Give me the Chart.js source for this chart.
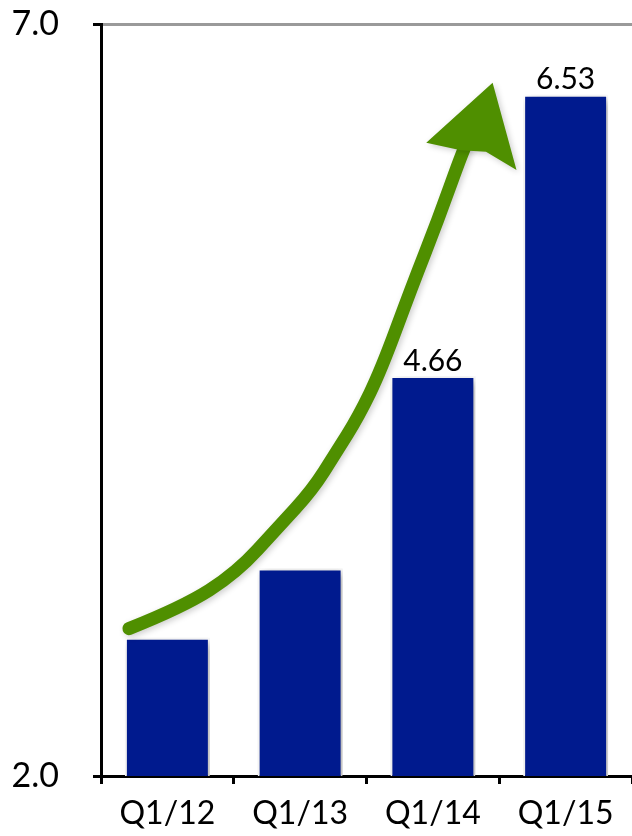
<!DOCTYPE html>
<html>
<head>
<meta charset="utf-8">
<script src="https://cdn.jsdelivr.net/npm/chart.js@4/dist/chart.umd.min.js"></script>
<style>
  body { margin: 0; background: #fff; }
  #wrap { width: 632px; height: 836px; }
</style>
</head>
<body>
<div id="wrap"><canvas id="myChart" width="632" height="836"></canvas></div>
<script>
// chart values
const quarters = ['Q1/12', 'Q1/13', 'Q1/14', 'Q1/15'];
const values = [2.92, 3.38, 4.66, 6.53];
const valueLabels = ['', '', '4.66', '6.53'];
const yTicks = [2.0, 7.0];

// green "growth" arrow, in (category index, value) space
const arrowIdx = [-0.29, 0.11, 0.52, 0.84, 1.09, 1.27, 1.44, 1.61, 1.84, 2.04, 2.21, 2.28];
const arrowVal = [2.98, 3.12, 3.35, 3.66, 3.90, 4.15, 4.39, 4.70, 5.25, 5.70, 6.12, 6.26];
const headIdx = [1.95, 2.45, 2.63, 2.40, 2.21];
const headVal = [6.21, 6.61, 6.03, 6.15, 6.16];

const FONT = 'Lato, "Open Sans", sans-serif';

const barShadow = {
    id: 'barShadow',
    beforeDatasetDraw(chart) {
        const c = chart.ctx;
        c.save();
        c.shadowColor = 'rgba(0, 0, 0, 0.35)';
        c.shadowBlur = 9;
        c.shadowOffsetX = 3;
        c.shadowOffsetY = 3;
    },
    afterDatasetDraw(chart) {
        chart.ctx.restore();
    }
};

const arrowPlugin = {
    id: 'arrowPlugin',
    afterDatasetsDraw(chart) {
        const c = chart.ctx;
        const xs = chart.scales.x, ys = chart.scales.y;
        const px = arrowIdx.map(v => xs.getPixelForValue(v));
        const py = arrowVal.map(v => ys.getPixelForValue(v));
        c.save();
        c.shadowColor = 'rgba(0, 0, 0, 0.2)';
        c.shadowBlur = 6;
        c.shadowOffsetX = 2;
        c.shadowOffsetY = 2;
        c.strokeStyle = '#4f8f00';
        c.fillStyle = '#4f8f00';
        c.lineCap = 'round';
        c.lineJoin = 'round';
        c.lineWidth = 13;
        c.beginPath();
        c.moveTo(px[0], py[0]);
        for (let i = 1; i < px.length - 1; i++) {
            c.quadraticCurveTo(px[i], py[i], (px[i] + px[i + 1]) / 2, (py[i] + py[i + 1]) / 2);
        }
        c.lineTo(px[px.length - 1], py[py.length - 1]);
        c.stroke();
        c.beginPath();
        headIdx.forEach((v, i) => {
            const hx = xs.getPixelForValue(v), hy = ys.getPixelForValue(headVal[i]);
            if (i === 0) c.moveTo(hx, hy); else c.lineTo(hx, hy);
        });
        c.closePath();
        c.fill();
        c.restore();
    }
};

const valueLabelPlugin = {
    id: 'valueLabelPlugin',
    afterDatasetsDraw(chart) {
        const c = chart.ctx;
        const meta = chart.getDatasetMeta(0);
        c.save();
        c.font = '30px ' + FONT;
        c.fillStyle = '#000';
        c.textAlign = 'center';
        c.textBaseline = 'bottom';
        meta.data.forEach((bar, i) => {
            if (valueLabels[i]) c.fillText(valueLabels[i], bar.x, bar.y);
        });
        c.restore();
    }
};

const ctx = document.getElementById('myChart').getContext('2d');
var myChart = new Chart(ctx, {
    type: 'bar',
    data: {
        labels: quarters,
        datasets: [{
            data: values,
            backgroundColor: '#001a8e',
            borderColor: '#ffffff',
            borderWidth: 2,
            categoryPercentage: 1.0,
            barPercentage: 0.64
        }]
    },
    options: {
        responsive: false,
        animation: false,
        layout: { padding: { top: 24, right: 0, left: 0, bottom: 0 } },
        plugins: {
            legend: { display: false },
            tooltip: { enabled: false }
        },
        scales: {
            x: {
                offset: true,
                border: { color: '#000', width: 3 },
                grid: { offset: true, drawOnChartArea: false, color: '#000', tickLength: 8, lineWidth: 3 },
                ticks: { color: '#000', font: { family: FONT, size: 32 }, padding: 10 },
                afterFit(scale) { scale.height = 60; scale.paddingLeft = 0; scale.paddingRight = 0; }
            },
            y: {
                min: yTicks[0],
                max: yTicks[1],
                afterBuildTicks(scale) { scale.ticks = yTicks.map(v => ({ value: v })); },
                border: { color: '#000', width: 3 },
                grid: {
                    color: (c) => c.tick && c.tick.value === yTicks[1] ? '#9a9a9a' : 'rgba(0,0,0,0)',
                    tickColor: '#000',
                    tickLength: 8,
                    lineWidth: 3
                },
                ticks: {
                    color: '#000',
                    font: { family: FONT, size: 34 },
                    padding: 34,
                    callback: (v) => Number(v).toFixed(1)
                },
                afterFit(scale) { scale.width = 101; scale.paddingTop = 0; scale.paddingBottom = 0; }
            }
        }
    },
    plugins: [barShadow, arrowPlugin, valueLabelPlugin]
});
</script>
</body>
</html>
